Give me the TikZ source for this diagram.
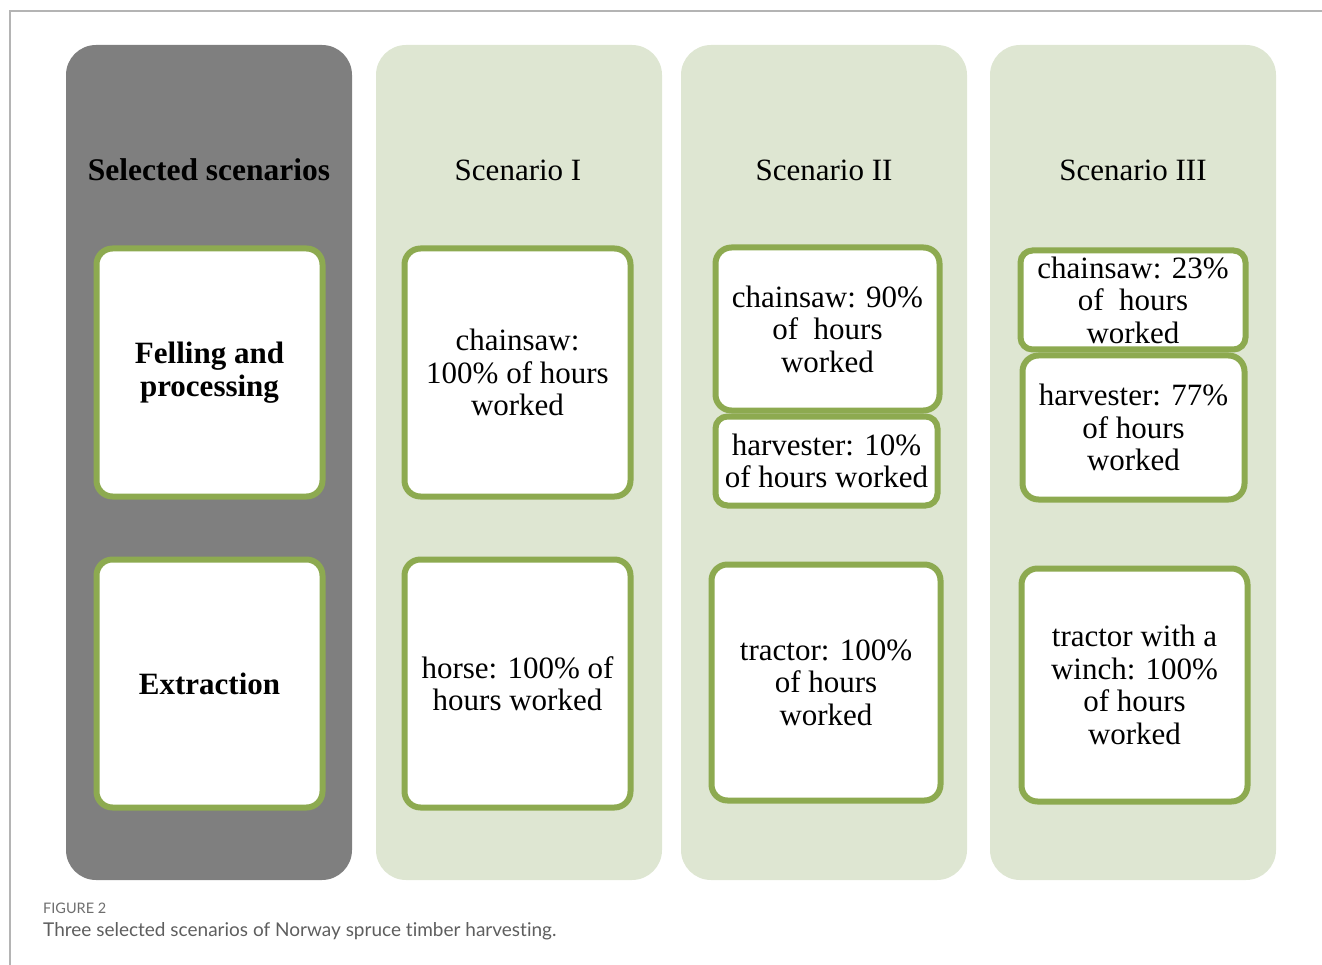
\documentclass[tikz,border=0pt]{standalone}
\usepackage{fontspec}
\setmainfont{Liberation Serif}
\newfontfamily\capfont[Ligatures=NoCommon]{Lato}
\definecolor{colgray}{HTML}{7F7F7F}
\definecolor{colgreen}{HTML}{DEE6D2}
\definecolor{cellline}{HTML}{8DAA50}
\definecolor{framegray}{HTML}{B4B4B4}
\definecolor{captitle}{HTML}{6E6E6E}
\definecolor{captext}{HTML}{5E5E5E}
\begin{document}
\begin{tikzpicture}[x=1pt,y=-1pt,
  colbox/.style={rounded corners=30pt, minimum width=286pt, minimum height=835pt, inner sep=0pt},
  cell/.style={draw=cellline, line width=6pt, fill=white, rounded corners=16pt,
    align=center, inner sep=0pt, font=\fontsize{31}{32.5}\selectfont},
  head/.style={font=\fontsize{31}{32.5}\selectfont}]
\useasboundingbox (0,0) rectangle (1322,965);
% frame lines
\draw[framegray, line width=1.5pt] (10,965) -- (10,11) -- (1322,11);

% column backgrounds
\node[colbox, fill=colgray]  (col0) at (209,462.5) {};
\node[colbox, fill=colgreen] (col1) at (519,462.5) {};
\node[colbox, fill=colgreen] (col2) at (824,462.5) {};
\node[colbox, fill=colgreen] (col3) at (1133,462.5) {};

% headers
\node[head, font=\fontsize{31.5}{33}\selectfont\bfseries] (h0) at (209,170) {Selected scenarios};
\node[head] (h1) at (518,170) {Scenario I};
\node[head] (h2) at (824,170) {Scenario II};
\node[head] (h3) at (1133,170) {Scenario III};

% stage labels
\node[cell, minimum width=226pt, minimum height=248pt, font=\fontsize{31}{32.5}\selectfont\bfseries]
  (c0a) at (209.5,372.5) {Felling and\\processing};
\node[cell, minimum width=226pt, minimum height=248pt, font=\fontsize{31}{32.5}\selectfont\bfseries]
  (c0b) at (209.5,683.5) {Extraction};

% scenario I
\node[cell, minimum width=226pt, minimum height=248pt] (c1a) at (517.5,372.5)
  {chainsaw:\\100\% of hours\\worked};
\node[cell, minimum width=226pt, minimum height=248pt] (c1b) at (517.5,683.5)
  {horse: 100\% of\\hours worked};

% scenario II
\node[cell, minimum width=224pt, minimum height=163pt] (c2a) at (827.5,329)
  {chainsaw: 90\%\\of~ hours\\worked};
\node[cell, minimum width=222pt, minimum height=89pt, rounded corners=12pt] (c2b) at (826.5,461)
  {harvester: 10\%\\of hours worked};
\node[cell, minimum width=229pt, minimum height=236pt] (c2c) at (826,682.5)
  {tractor: 100\%\\of hours\\worked};

% scenario III
\node[cell, minimum width=225pt, minimum height=99pt, rounded corners=12pt] (c3a) at (1133,300)
  {chainsaw: 23\%\\of~ hours\\worked};
\node[cell, minimum width=222pt, minimum height=144pt] (c3b) at (1133.5,427.5)
  {harvester: 77\%\\of hours\\worked};
\node[cell, minimum width=226pt, minimum height=233pt] (c3c) at (1134.5,685)
  {tractor with a\\winch: 100\%\\of hours\\worked};

% caption
\node[anchor=west, inner sep=0pt, text=captitle, font=\capfont\fontsize{14.5}{16}\selectfont] (figno) at (43,908) {FIGURE 2};
\node[anchor=west, inner sep=0pt, text=captext, font=\capfont\fontsize{19}{21}\selectfont] (figcap) at (43,931)
  {Three selected scenarios of Norway spruce timber harvesting.};
\end{tikzpicture}
\end{document}
